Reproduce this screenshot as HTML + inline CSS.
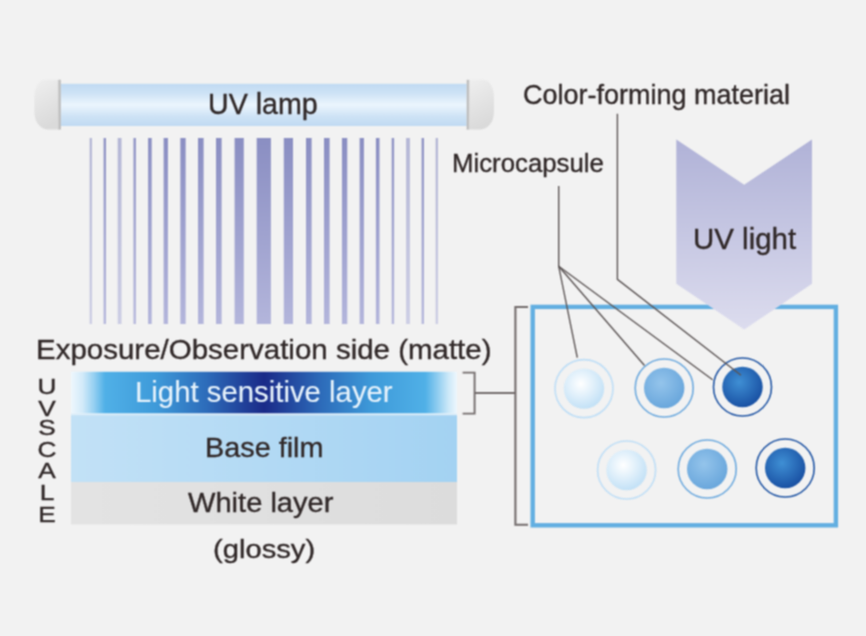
<!DOCTYPE html>
<html><head><meta charset="utf-8">
<style>
html,body{margin:0;padding:0;width:866px;height:636px;overflow:hidden;background:#f2f2f2}
#wrap{position:relative;width:866px;height:636px}
svg{position:absolute;left:0;top:0}
.t{position:absolute;font-family:"Liberation Sans",sans-serif;line-height:1;white-space:pre;transform-origin:0 0;-webkit-text-stroke:0.35px currentColor}
#wrap{filter:url(#soft)}
.v{left:38px;width:18px;text-align:center;font-size:22.8px;color:#302828;transform:scaleX(1.15);transform-origin:50% 0}
</style></head><body>
<svg width="0" height="0" style="position:absolute;left:0;top:0"><filter id="soft" x="0" y="0" width="1" height="1" color-interpolation-filters="sRGB"><feConvolveMatrix order="3" kernelMatrix="1 2 1 2 4 2 1 2 1" divisor="16" edgeMode="duplicate"/></filter></svg>
<div id="wrap">
<svg width="866" height="636" viewBox="0 0 866 636">
<defs>
 <linearGradient id="gTube" x1="0" y1="0" x2="0" y2="1">
  <stop offset="0" stop-color="#c0daf2"/>
  <stop offset="0.22" stop-color="#cde2f5"/>
  <stop offset="0.5" stop-color="#ebf5fd"/>
  <stop offset="0.78" stop-color="#cde2f5"/>
  <stop offset="1" stop-color="#c0daf2"/>
 </linearGradient>
 <linearGradient id="gCap" x1="0" y1="0" x2="0.3" y2="1">
  <stop offset="0" stop-color="#efefef"/>
  <stop offset="1" stop-color="#dadada"/>
 </linearGradient>
 <linearGradient id="gCapEdgeR" x1="0" y1="0" x2="1" y2="0">
  <stop offset="0" stop-color="#adadad"/>
  <stop offset="1" stop-color="#d8d8d8"/>
 </linearGradient>
 <linearGradient id="gCapEdgeL" x1="1" y1="0" x2="0" y2="0">
  <stop offset="0" stop-color="#adadad"/>
  <stop offset="1" stop-color="#d8d8d8"/>
 </linearGradient>
 <linearGradient id="gRay" x1="0" y1="0" x2="0" y2="1">
  <stop offset="0" stop-color="#8a8ec2"/>
  <stop offset="1" stop-color="#b3b5db"/>
 </linearGradient>
 <linearGradient id="gLight" x1="71" y1="0" x2="457" y2="0" gradientUnits="userSpaceOnUse">
  <stop offset="0" stop-color="#eef7fd"/>
  <stop offset="0.03" stop-color="#d2eaf9"/>
  <stop offset="0.06" stop-color="#94cff1"/>
  <stop offset="0.088" stop-color="#50b0e7"/>
  <stop offset="0.22" stop-color="#3e9ad9"/>
  <stop offset="0.35" stop-color="#2d6cba"/>
  <stop offset="0.5" stop-color="#1a2a88"/>
  <stop offset="0.65" stop-color="#2d6cba"/>
  <stop offset="0.78" stop-color="#3e9ad9"/>
  <stop offset="0.918" stop-color="#50b0e7"/>
  <stop offset="0.95" stop-color="#90cdf0"/>
  <stop offset="0.978" stop-color="#cce8f8"/>
  <stop offset="1" stop-color="#eef7fd"/>
 </linearGradient>
 <linearGradient id="gBase" x1="0" y1="0" x2="1" y2="0">
  <stop offset="0" stop-color="#c2e1f6"/>
  <stop offset="1" stop-color="#a3d2f2"/>
 </linearGradient>
 <linearGradient id="gWhite" x1="0" y1="0" x2="1" y2="0">
  <stop offset="0" stop-color="#e3e3e3"/>
  <stop offset="1" stop-color="#dcdcdc"/>
 </linearGradient>
 <linearGradient id="gArrow" x1="0" y1="0" x2="0" y2="1">
  <stop offset="0" stop-color="#b0b2d7"/>
  <stop offset="1" stop-color="#dcdcee"/>
 </linearGradient>
 <radialGradient id="ballL" cx="0.42" cy="0.38" r="0.62">
  <stop offset="0" stop-color="#ffffff"/>
  <stop offset="1" stop-color="#c3e1f6"/>
 </radialGradient>
 <radialGradient id="ballM" cx="0.42" cy="0.38" r="0.62">
  <stop offset="0" stop-color="#94c4eb"/>
  <stop offset="1" stop-color="#6aa7dc"/>
 </radialGradient>
 <radialGradient id="ballD" cx="0.42" cy="0.38" r="0.62">
  <stop offset="0" stop-color="#3f8fd4"/>
  <stop offset="1" stop-color="#1a52a4"/>
 </radialGradient>
 <linearGradient id="ringL"><stop offset="0" stop-color="#bfdef6"/><stop offset="1" stop-color="#bfdef6"/></linearGradient>
 <linearGradient id="ringM"><stop offset="0" stop-color="#6eaade"/><stop offset="1" stop-color="#6eaade"/></linearGradient>
 <linearGradient id="ringD"><stop offset="0" stop-color="#2256a4"/><stop offset="1" stop-color="#2256a4"/></linearGradient>
</defs>
<!-- lamp -->
<rect x="60.6" y="83.8" width="406.2" height="42.2" fill="url(#gTube)"/>
<path d="M60.6 79.8 L45 79.8 A10.6 17 0 0 0 34.4 96.8 L34.4 112 A13 17.5 0 0 0 47.4 129.5 L60.6 129.5 Z" fill="url(#gCap)"/>
<rect x="57.8" y="79.8" width="2.8" height="49.7" fill="url(#gCapEdgeL)"/>
<path d="M466.8 79.8 L483.3 79.8 A10.6 17 0 0 1 493.9 96.8 L493.9 112 A13 17.5 0 0 1 480.9 129.5 L466.8 129.5 Z" fill="url(#gCap)"/>
<rect x="466.8" y="79.8" width="2.8" height="49.7" fill="url(#gCapEdgeR)"/>
<!-- rays -->
<rect x="256.70" y="138" width="14.20" height="186" fill="url(#gRay)" opacity="1"/>
<rect x="234.60" y="138" width="9.20" height="186" fill="url(#gRay)" opacity="1"/>
<rect x="283.80" y="138" width="9.20" height="186" fill="url(#gRay)" opacity="1"/>
<rect x="216.00" y="138" width="5.60" height="186" fill="url(#gRay)" opacity="1"/>
<rect x="306.00" y="138" width="5.60" height="186" fill="url(#gRay)" opacity="1"/>
<rect x="198.00" y="138" width="5.60" height="186" fill="url(#gRay)" opacity="1"/>
<rect x="324.00" y="138" width="5.60" height="186" fill="url(#gRay)" opacity="1"/>
<rect x="180.35" y="138" width="5.30" height="186" fill="url(#gRay)" opacity="1"/>
<rect x="341.95" y="138" width="5.30" height="186" fill="url(#gRay)" opacity="1"/>
<rect x="163.65" y="138" width="4.30" height="186" fill="url(#gRay)" opacity="1"/>
<rect x="359.65" y="138" width="4.30" height="186" fill="url(#gRay)" opacity="1"/>
<rect x="148.10" y="138" width="3.60" height="186" fill="url(#gRay)" opacity="1"/>
<rect x="375.90" y="138" width="3.60" height="186" fill="url(#gRay)" opacity="1"/>
<rect x="133.50" y="138" width="2.40" height="186" fill="url(#gRay)" opacity="0.95"/>
<rect x="391.70" y="138" width="2.40" height="186" fill="url(#gRay)" opacity="0.95"/>
<rect x="117.70" y="138" width="3.80" height="186" fill="url(#gRay)" opacity="0.6"/>
<rect x="406.10" y="138" width="3.80" height="186" fill="url(#gRay)" opacity="0.6"/>
<rect x="103.60" y="138" width="2.40" height="186" fill="url(#gRay)" opacity="0.95"/>
<rect x="421.60" y="138" width="2.40" height="186" fill="url(#gRay)" opacity="0.95"/>
<rect x="89.70" y="138" width="2.20" height="186" fill="url(#gRay)" opacity="0.62"/>
<rect x="435.70" y="138" width="2.20" height="186" fill="url(#gRay)" opacity="0.62"/>
<!-- layers -->
<rect x="71" y="371.8" width="386" height="41.7" fill="url(#gLight)"/>
<rect x="71" y="413.5" width="386" height="1.6" fill="#dceefa"/>
<rect x="71" y="415.2" width="386" height="66.8" fill="url(#gBase)"/>
<rect x="71" y="482" width="386" height="42.4" fill="url(#gWhite)"/>
<!-- brackets -->
<polyline points="462.6,372.6 474.6,372.6 474.6,413.6 462.6,413.6" fill="none" stroke="#736c6c" stroke-width="1.9"/>
<line x1="474.6" y1="393" x2="515.4" y2="393" stroke="#736c6c" stroke-width="1.9"/>
<polyline points="528,307 515.4,307 515.4,524.8 528,524.8" fill="none" stroke="#736c6c" stroke-width="2.1"/>
<!-- box -->
<rect x="532.7" y="306.9" width="303.2" height="218.4" fill="none" stroke="#63afe1" stroke-width="4.4"/>
<!-- arrow -->
<polygon points="676.3,139.6 744.2,184.7 812,139.6 812,283.8 744.2,329.6 676.3,283.8" fill="url(#gArrow)"/>
<!-- circles -->
<circle cx="584.0" cy="388.6" r="29" fill="none" stroke="url(#ringL)" stroke-width="1.6"/><circle cx="584.0" cy="388.6" r="20.2" fill="url(#ballL)"/>
<circle cx="664.2" cy="388.0" r="29" fill="none" stroke="url(#ringM)" stroke-width="1.6"/><circle cx="664.2" cy="388.0" r="20.2" fill="url(#ballM)"/>
<circle cx="742.5" cy="387.0" r="29" fill="none" stroke="url(#ringD)" stroke-width="1.6"/><circle cx="742.5" cy="387.0" r="20.2" fill="url(#ballD)"/>
<circle cx="626.6" cy="470.0" r="29" fill="none" stroke="url(#ringL)" stroke-width="1.6"/><circle cx="626.6" cy="470.0" r="20.2" fill="url(#ballL)"/>
<circle cx="707.2" cy="469.0" r="29" fill="none" stroke="url(#ringM)" stroke-width="1.6"/><circle cx="707.2" cy="469.0" r="20.2" fill="url(#ballM)"/>
<circle cx="785.2" cy="468.0" r="29" fill="none" stroke="url(#ringD)" stroke-width="1.6"/><circle cx="785.2" cy="468.0" r="20.2" fill="url(#ballD)"/>
<!-- leader lines -->
<polyline points="558.7,186 558.7,266.3 577.3,357.7" fill="none" stroke="#5c5555" stroke-width="1.4"/>
<line x1="558.7" y1="266.3" x2="644.5" y2="365.5" stroke="#5c5555" stroke-width="1.4"/>
<line x1="558.7" y1="266.3" x2="712.6" y2="379.8" stroke="#5c5555" stroke-width="1.4"/>
<polyline points="617.4,113.8 617.4,279.3 741,375.2" fill="none" stroke="#5c5555" stroke-width="1.4"/>
</svg>
<div class="t" style="left:208.31px;top:90.43px;font-size:28.57px;color:#302828;transform:scaleX(1.0019)">UV lamp</div>
<div class="t" style="left:36.04px;top:336.42px;font-size:27.97px;color:#302828;transform:scaleX(1.0541)">Exposure/Observation side (matte)</div>
<div class="t" style="left:135.45px;top:377.81px;font-size:28.70px;color:#e6f2fb;transform:scaleX(1.0226);-webkit-text-stroke:0.12px currentColor">Light sensitive layer</div>
<div class="t" style="left:204.89px;top:434.45px;font-size:27.83px;color:#302828;transform:scaleX(1.0356)">Base film</div>
<div class="t" style="left:187.91px;top:488.82px;font-size:27.39px;color:#302828;transform:scaleX(1.0622)">White layer</div>
<div class="t" style="left:212.75px;top:536.70px;font-size:25.83px;color:#302828;transform:scaleX(1.1292)">(glossy)</div>
<div class="t" style="left:522.55px;top:80.73px;font-size:27.22px;color:#302828;transform:scaleX(0.9916)">Color-forming material</div>
<div class="t" style="left:451.54px;top:150.03px;font-size:26.09px;color:#302828;transform:scaleX(0.9886)">Microcapsule</div>
<div class="t" style="left:692.64px;top:224.81px;font-size:28.71px;color:#302828;transform:scaleX(1.0264)">UV light</div>
<div class="t v" style="top:374.59px">U</div>
<div class="t v" style="top:396.89px">V</div>
<div class="t v" style="top:416.49px">S</div>
<div class="t v" style="top:438.49px">C</div>
<div class="t v" style="top:459.29px">A</div>
<div class="t v" style="top:480.89px">L</div>
<div class="t v" style="top:502.59px">E</div>
</div></body></html>
